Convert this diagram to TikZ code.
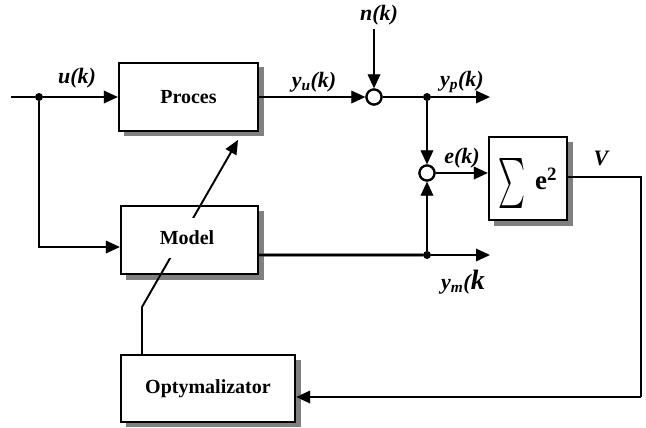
\documentclass[tikz,border=0pt]{standalone}
\usepackage{fontspec}
\setmainfont{Liberation Serif}
\usepackage{graphicx}
\usetikzlibrary{arrows.meta}
\begin{document}
\begin{tikzpicture}[x=1bp,y=-1bp,
  blk/.style={draw,line width=2.2bp,fill=white,inner sep=0,
    font=\fontsize{20bp}{24bp}\selectfont\bfseries},
  shadowfill/.style={fill=black!50},
  sumnode/.style={draw,line width=2.2bp,fill=white,minimum size=15bp,circle,inner sep=0},
  dot/.style={circle,fill=black,minimum size=8bp,inner sep=0},
  wsh/.style={draw=black!40,line width=2.7bp},
  wire/.style={line width=2.7bp},
  tip/.style={-{Triangle[length=14bp,width=12bp]}},
  thin/.style={line width=1.8bp},
  lab/.style={font=\fontsize{22bp}{24bp}\selectfont\bfseries\itshape,inner sep=0}]
\fill[white] (0,0) rectangle (646,427);
\useasboundingbox (0,0) rectangle (646,427);

% block shadows (drawn first, below the blocks)
\fill[shadowfill] (124,67) rectangle (264,136);
\fill[shadowfill] (126,211) rectangle (264,280);
\fill[shadowfill] (126,360) rectangle (301,427);
\fill[shadowfill] (494,142) rectangle (573,226);

% blocks
\node[blk,minimum width=139bp,minimum height=68bp] (proces) at (188.5,97) {Proces};
\node[blk,minimum width=137bp,minimum height=68bp] (model) at (189.5,240) {};
\node[blk,minimum width=174bp,minimum height=67bp] (opt) at (208,388.5) {Optymalizator};
\node[blk,minimum width=78bp,minimum height=83bp] (sum) at (528,178.5) {};

% summing junctions and dots
\node[sumnode] (c1) at (374,97) {};
\node[sumnode] (c2) at (427,173) {};
\node[dot] (d0) at (39,97) {};
\node[dot] (d1) at (427,97) {};
\node[dot] (d2) at (427,255) {};

% free ends
\coordinate (in) at (11,97);
\coordinate (nk) at (374,29);
\coordinate (ypend) at (490,97);
\coordinate (ymend) at (490,255);
\coordinate (rc) at (641,397);
\coordinate (o1) at (142,355);
\coordinate (o2) at (142,307);
\coordinate (pt) at (238,140);

% connector shadows
\begin{scope}[shift={(1.6bp,-1.6bp)}]
\draw[wsh] (in) -- (d0);
\draw[wsh,tip] (d0) -- (d0 -| proces.west);
\draw[wsh,tip] (d0) |- ([yshift=-7bp]model.west);
\draw[wsh,tip] (proces.east |- c1) -- (c1);
\draw[wsh,tip] (nk) -- (c1);
\draw[wsh,tip] (d1) -- (ypend);
\draw[wsh,tip] (d1) -- (c2);
\draw[wsh,tip] (c2) -- (c2 -| sum.west);
\draw[wsh] ([yshift=-15bp]model.east) -- (d2);
\draw[wsh,tip] (d2) -- (ymend);
\draw[wsh,tip] (d2) -- (c2);
\draw[wsh] ([yshift=1.5bp]sum.east) -| (rc);
\draw[wsh,tip] (rc) -- (rc -| opt.east);
\draw[wsh,thin] (o1) -- (o2);
\draw[wsh,thin,tip] (o2) -- (pt);
\end{scope}

% connectors
\draw[wire] (in) -- (d0);
\draw[wire,tip] (d0) -- (d0 -| proces.west);
\draw[wire,tip] (d0) |- ([yshift=-7bp]model.west);
\draw[wire,tip] (proces.east |- c1) -- (c1);
\draw[wire,tip] (nk) -- (c1);
\draw[wire] (c1) -- (d1);
\draw[wire,tip] (d1) -- (ypend);
\draw[wire,tip] (d1) -- (c2);
\draw[wire,tip] (c2) -- (c2 -| sum.west);
\draw[wire] ([yshift=-15bp]model.east) -- (d2);
\draw[wire,tip] (d2) -- (ymend);
\draw[wire,tip] (d2) -- (c2);
\draw[wire] ([yshift=1.5bp]sum.east) -| (rc);
\draw[wire,tip] (rc) -- (rc -| opt.east);
\draw[thin] (o1) -- (o2);
\draw[thin,tip] (o2) -- (pt);

% redraw junction circles on top of shadows
\node[sumnode] at (c1) {};
\node[sumnode] at (c2) {};

% model label covering the adjustment arrow
\node[fill=white,minimum width=72bp,minimum height=40bp,inner sep=0,
  font=\fontsize{20bp}{24bp}\selectfont\bfseries] (mlab) at (187,238) {Model};

% content of the sum-of-squares block
\node[inner sep=0] (sigmark) at (512,183) {\resizebox*{27bp}{50bp}{$\sum$}};
\node[inner sep=0,font=\fontsize{27bp}{27bp}\selectfont\bfseries] (esq) at (546,179) {e\textsuperscript{2}};

% signal labels
\node[lab] (lu) at (77,78) {u(k)};
\node[lab] (lyu) at (314,82) {y\textsubscript{u}(k)};
\node[lab] (ln) at (379,15) {n(k)};
\node[lab] (lyp) at (462,82) {y\textsubscript{p}(k)};
\node[lab] (le) at (462,158) {e(k)};
\node[lab] (lv) at (601,158) {V};
\node[lab] (lym) at (463,282) {y\textsubscript{m}({\fontsize{28bp}{28bp}\selectfont k}};
\end{tikzpicture}
\end{document}
